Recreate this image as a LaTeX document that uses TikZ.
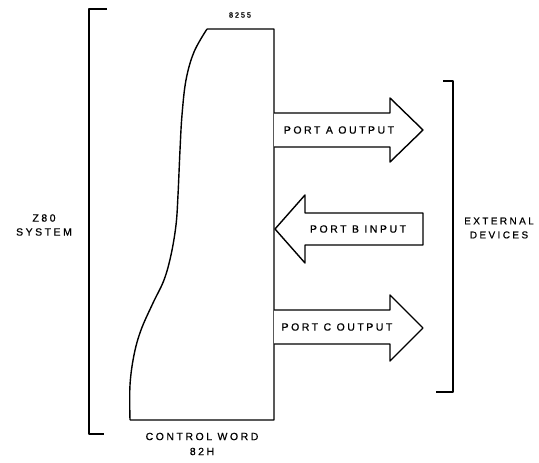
\documentclass[tikz,border=0pt]{standalone}
\usepackage{fontspec}
\setmainfont{Liberation Sans}
\newfontfamily\lblfont{Liberation Sans}[LetterSpace=24,FakeBold=0.6]
\begin{document}
\begin{tikzpicture}[x=1pt,y=-1pt,
  line/.style={draw=black,line width=1.4pt,line join=round},
  lbl/.style={font=\lblfont\fontsize{10.5}{12}\selectfont,inner sep=0pt,align=center},
  small/.style={font=\lblfont\fontsize{7.5}{9}\selectfont,inner sep=0pt}]
\useasboundingbox[fill=white] (0,0) rectangle (539,463);
% left bracket (Z80 system)
\draw[line] (107,9) -- (89,9) -- (89,434) -- (104,434);
% right bracket (external devices)
\draw[line] (443,81) -- (453,81) -- (453,392) -- (436,392);
% 8255 chip outline
\draw[line] (207,29) -- (274,29) -- (274,420) -- (130,420)
  plot[smooth,tension=0.6] coordinates {(130,420) (130,385) (134,355) (141,330) (153,303) (164,280) (171,255) (176,225) (178,195) (180,150) (182,115) (186,80) (194,52) (207,29)};
% port A output arrow
\draw[line,fill=white] (274,113) -- (390,113) -- (390,98) -- (423,130) -- (390,162) -- (390,147) -- (274,147);
% port B input arrow
\draw[line,fill=white] (423,213) -- (305,213) -- (305,195) -- (275,229) -- (305,263) -- (305,245) -- (423,245) -- cycle;
% port C output arrow
\draw[line,fill=white] (274,310) -- (390,310) -- (390,295) -- (423,328) -- (390,361) -- (390,344) -- (274,344);
% labels
\node[small] (chip) at (240,15) {8255};
\node[lbl] (pa) at (339,130) {PORT A OUTPUT};
\node[lbl] (pb) at (358,229) {PORT B INPUT};
\node[lbl] (pc) at (337,327) {PORT C OUTPUT};
\node[lbl] (z80) at (44,225) {Z80\\[2pt]SYSTEM};
\node[lbl,font=\lblfont\fontsize{10}{12}\selectfont] (ext) at (499,228) {EXTERNAL\\[2pt]DEVICES};
\node[lbl] (cw) at (202,444) {CONTROL WORD\\[3pt]82H};
\end{tikzpicture}
\end{document}
